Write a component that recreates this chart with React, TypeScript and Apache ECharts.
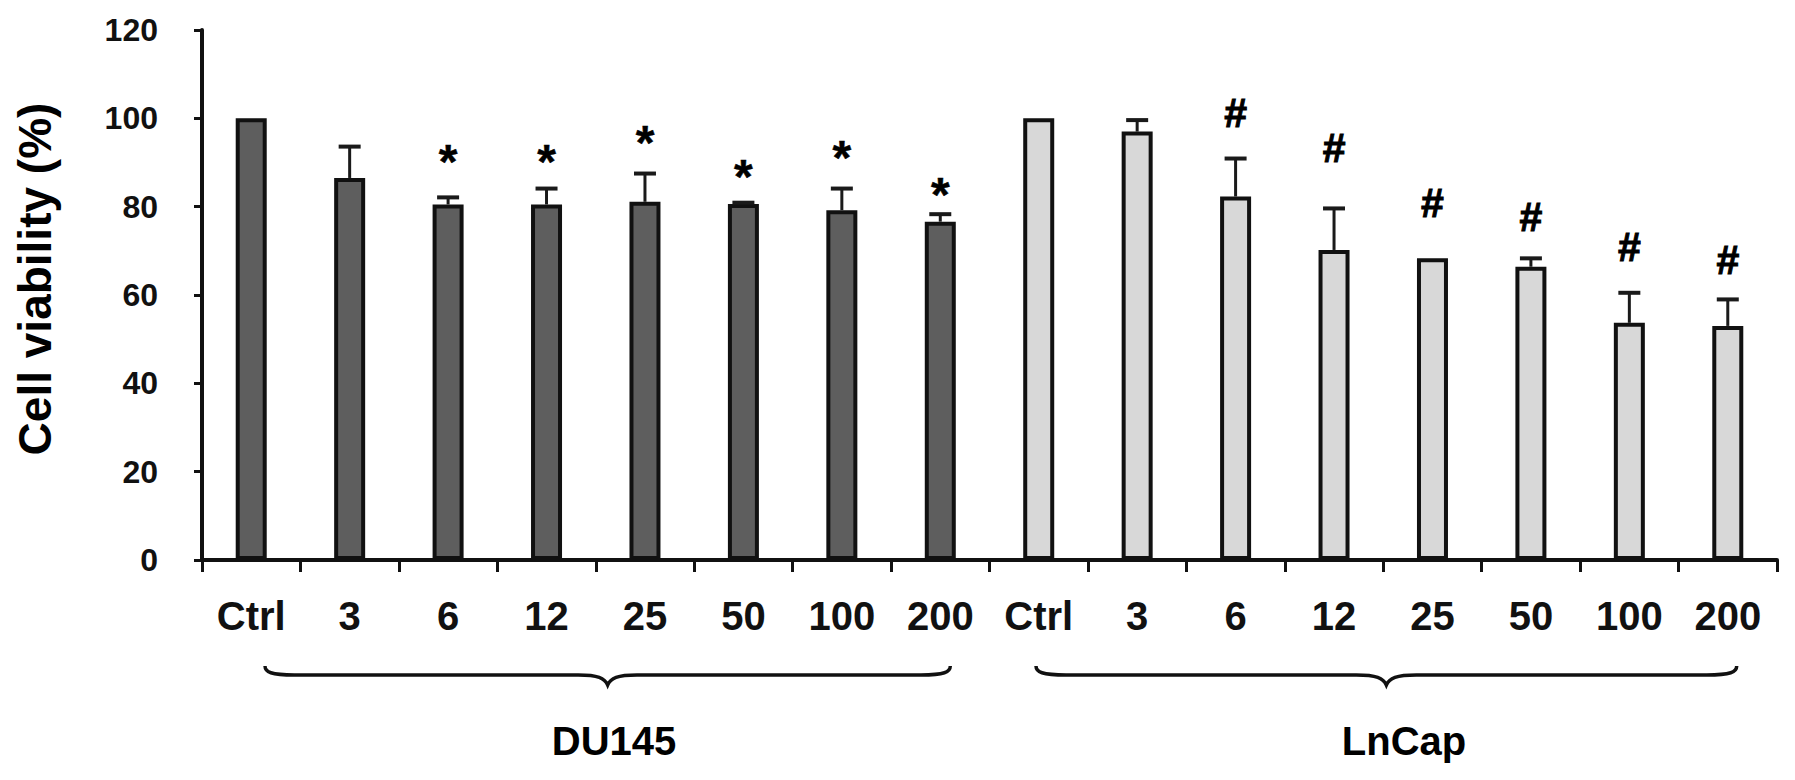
import React, { useEffect, useRef } from 'react';
import * as echarts from 'echarts';

const doses = ['Ctrl', '3', '6', '12', '25', '50', '100', '200'];
const yTicks = [0, 20, 40, 60, 80, 100, 120];
const du145Mean = [100, 86.5, 80.5, 80.5, 81.1, 80.6, 79.2, 76.6];
const du145Sd = [0, 7.1, 1.6, 3.6, 6.4, 0.3, 4.9, 1.7];
const lncapMean = [100, 97.0, 82.3, 70.2, 68.3, 66.4, 53.7, 53.0];
const lncapSd = [0, 2.6, 8.6, 9.4, 0, 1.9, 6.8, 6.0];
const du145Marks = [null, null, 92.8, 92.8, 97.0, 89.4, 93.6, 85.3];
const lncapMarks = [null, null, 101.2, 93.3, 80.8, 77.7, 70.9, 67.9];
const markSymbols = ['*', '#'];
const groupNames = ['DU145', 'LnCap'];
const yTitle = 'Cell viability (%)';

const FONT = "'Liberation Sans', Arial, Helvetica, sans-serif";

echarts.graphic.registerShape(
  'brace',
  echarts.graphic.extendPath(
    'M0,0 C0,6 6,9 30,9 L320,9 C340,9 347,12 350,19 C353,12 360,9 380,9 L670,9 C694,9 700,6 700,0',
    {}
  )
);

export default function App() {
  const ref = useRef<HTMLDivElement>(null);

  useEffect(() => {
    document.body.style.margin = '0';
    if (!ref.current) return;
    const chart = echarts.init(ref.current, null, { renderer: 'svg' });
    const n = doses.length;
    const categories = [...doses, ...doses];
    const duBar = [...du145Mean, ...Array(n).fill('-')];
    const lnBar = [...Array(n).fill('-'), ...lncapMean];
    const errData = [
      ...du145Mean.map((m, i) => [i, m, du145Sd[i]]),
      ...lncapMean.map((m, i) => [i + n, m, lncapSd[i]]),
    ].filter((d) => d[2] > 0);
    const markData: number[][] = [];
    du145Marks.forEach((v, i) => {
      if (v != null) markData.push([i, v, 0]);
    });
    lncapMarks.forEach((v, i) => {
      if (v != null) markData.push([i + n, v, 1]);
    });

    const option: any = {
      animation: false,
      textStyle: { fontFamily: FONT },
      grid: { left: 202, right: 18, top: 30, bottom: 220, containLabel: false },
      xAxis: {
        type: 'category',
        data: categories,
        boundaryGap: true,
        axisLine: { show: true, lineStyle: { color: '#111', width: 4 } },
        axisTick: {
          show: true,
          interval: 0,
          alignWithLabel: false,
          length: 12,
          lineStyle: { color: '#111', width: 3 },
        },
        axisLabel: {
          interval: 0,
          fontSize: 40,
          fontWeight: 'bold',
          color: '#111',
          margin: 36,
          fontFamily: FONT,
        },
        splitLine: { show: false },
      },
      yAxis: {
        type: 'value',
        min: yTicks[0],
        max: yTicks[yTicks.length - 1],
        interval: yTicks[1] - yTicks[0],
        axisLine: { show: true, lineStyle: { color: '#111', width: 4 } },
        axisTick: { show: true, length: 8, lineStyle: { color: '#111', width: 3 } },
        axisLabel: {
          fontSize: 32,
          fontWeight: 'bold',
          color: '#111',
          margin: 44,
          fontFamily: FONT,
        },
        splitLine: { show: false },
      },
      series: [
        {
          name: groupNames[0],
          type: 'bar',
          data: duBar,
          barWidth: 31,
          barGap: '-100%',
          itemStyle: { color: '#5e5e5e', borderColor: '#111', borderWidth: 4 },
          z: 2,
        },
        {
          name: groupNames[1],
          type: 'bar',
          data: lnBar,
          barWidth: 31,
          barGap: '-100%',
          itemStyle: { color: '#d8d8d8', borderColor: '#111', borderWidth: 4 },
          z: 2,
        },
        {
          type: 'custom',
          name: 'sd',
          data: errData,
          z: 3,
          encode: { x: 0, y: 1 },
          renderItem: (params: any, api: any) => {
            const x = api.value(0);
            const m = api.value(1);
            const sd = api.value(2);
            const base = api.coord([x, m]);
            const top = api.coord([x, m + sd]);
            const half = 11;
            return {
              type: 'group',
              children: [
                {
                  type: 'line',
                  shape: { x1: base[0], y1: base[1], x2: top[0], y2: top[1] },
                  style: { stroke: '#1a1a1a', lineWidth: 3 },
                },
                {
                  type: 'line',
                  shape: { x1: top[0] - half, y1: top[1], x2: top[0] + half, y2: top[1] },
                  style: { stroke: '#1a1a1a', lineWidth: 4 },
                },
              ],
            };
          },
        },
        {
          type: 'custom',
          name: 'marks',
          data: markData,
          z: 4,
          encode: { x: 0, y: 1 },
          renderItem: (params: any, api: any) => {
            const p = api.coord([api.value(0), api.value(1)]);
            const k = api.value(2);
            return {
              type: 'text',
              x: p[0],
              y: p[1] + (k === 0 ? 11 : 0),
              style: {
                text: markSymbols[k],
                fontSize: k === 0 ? 48 : 41,
                fontWeight: 'bold',
                fontFamily: FONT,
                fill: '#000',
                stroke: '#000',
                lineWidth: k === 0 ? 0.5 : 1,
                align: 'center',
                verticalAlign: 'middle',
              },
            };
          },
        },
      ],
      graphic: [
        {
          type: 'text',
          x: 35,
          y: 279,
          rotation: Math.PI / 2,
          style: {
            text: yTitle,
            fontSize: 46,
            fontWeight: 'bold',
            fontFamily: FONT,
            fill: '#000',
            align: 'center',
            verticalAlign: 'middle',
          },
        },
        {
          type: 'brace',
          x: 265,
          y: 666,
          scaleX: 685 / 700,
          scaleY: 1,
          style: { fill: 'none', stroke: '#111', lineWidth: 3.5 },
        },
        {
          type: 'brace',
          x: 1036,
          y: 666,
          scaleX: 701 / 700,
          scaleY: 1,
          style: { fill: 'none', stroke: '#111', lineWidth: 3.5 },
        },
        {
          type: 'text',
          x: 614,
          y: 741,
          style: {
            text: groupNames[0],
            fontSize: 40,
            fontWeight: 'bold',
            fontFamily: FONT,
            fill: '#000',
            align: 'center',
            verticalAlign: 'middle',
          },
        },
        {
          type: 'text',
          x: 1404,
          y: 741,
          style: {
            text: groupNames[1],
            fontSize: 40,
            fontWeight: 'bold',
            fontFamily: FONT,
            fill: '#000',
            align: 'center',
            verticalAlign: 'middle',
          },
        },
      ],
    };
    chart.setOption(option);
    return () => chart.dispose();
  }, []);

  return <div ref={ref} style={{ width: 1795, height: 780 }} />;
}
